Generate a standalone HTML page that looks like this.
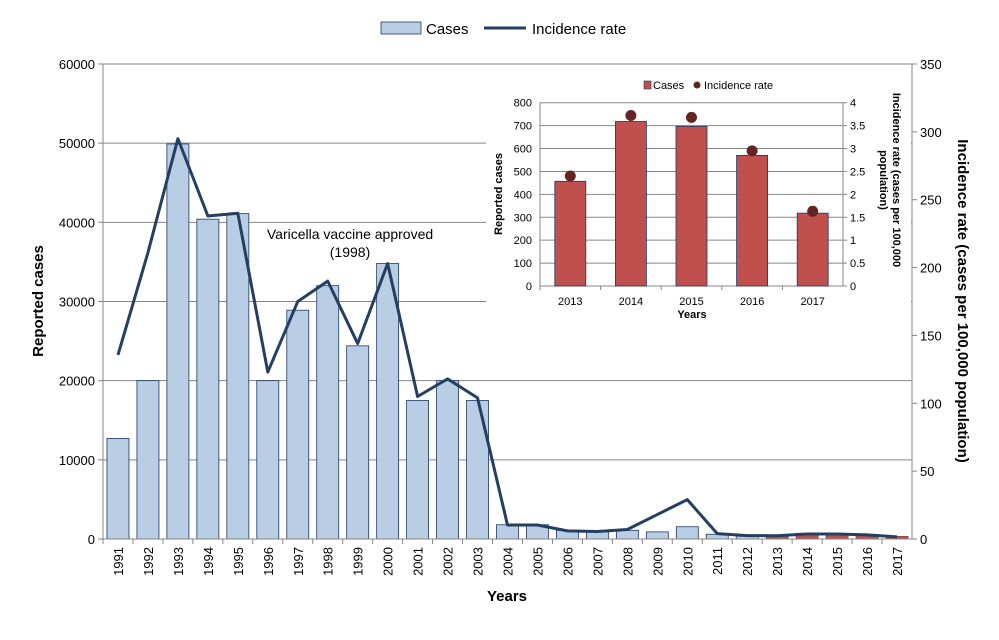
<!DOCTYPE html>
<html><head><meta charset="utf-8">
<style>
body{margin:0;background:#fff;font-family:"Liberation Sans",sans-serif;}
svg text{font-family:"Liberation Sans",sans-serif;}
</style></head>
<body>
<svg id="c" width="999" height="635" xmlns="http://www.w3.org/2000/svg"></svg>
<script>
const years=[1991,1992,1993,1994,1995,1996,1997,1998,1999,2000,2001,2002,2003,2004,2005,2006,2007,2008,2009,2010,2011,2012,2013,2014,2015,2016,2017];
const cases=[12700,20000,49900,40400,41100,20000,28900,32000,24400,34800,17500,20000,17500,1800,1800,1100,900,1100,900,1550,600,350,460,720,700,570,320];
const rates=[135.6,211,295,238,240,123,175,190,144,203,105,118,104,10.3,10.3,6,5.5,7,18,29,4,2.5,2.4,3.7,3.7,3,1.6];
const leftTicks=[0,10000,20000,30000,40000,50000,60000];
const rightTicks=[0,50,100,150,200,250,300,350];
const insetYears=[2013,2014,2015,2016,2017];
const insetCases=[457,718,697,570,318];
const insetRates=[2.4,3.72,3.68,2.95,1.63];
const insetLeftTicks=[0,100,200,300,400,500,600,700,800];
const insetRightTicks=[0,0.5,1,1.5,2,2.5,3,3.5,4];

const svg=document.getElementById('c');
const NS='http://www.w3.org/2000/svg';
function mk(t,a,txt){const e=document.createElementNS(NS,t);for(const k in a)e.setAttribute(k,a[k]);if(txt!==undefined)e.textContent=txt;svg.appendChild(e);return e;}

const X0=103,X1=912,Y0=539,Y1=64;
const bw=(X1-X0)/years.length;
const yL=v=>Y0-(v/60000)*(Y0-Y1);
const yR=v=>Y0-(v/350)*(Y0-Y1);
const xc=i=>X0+bw*(i+0.5);

leftTicks.forEach(t=>{
  if(t>0){const g=mk('line',{x1:X0,x2:X1,y1:yL(t),y2:yL(t),stroke:'#868686','stroke-width':1});
  }
  const l=mk('text',{x:X0-8,y:yL(t)+5,'text-anchor':'end','font-size':13},t);
  
  mk('line',{x1:X0-5,x2:X0,y1:yL(t),y2:yL(t),stroke:'#868686'});
});
mk('line',{x1:X0,x2:X0,y1:Y1,y2:Y0,stroke:'#868686'});

years.forEach((y,i)=>{
  const w=22,h=Y0-yL(cases[i]);
  const red=y>=2013;
  const r=mk('rect',{x:xc(i)-w/2,y:yL(cases[i]),width:w,height:h,fill:red?'#c0504d':'#b9cde5',stroke:red?'#8c3836':'#1f3864','stroke-width':0.8});
  
  mk('line',{x1:X0+bw*i,x2:X0+bw*i,y1:Y0,y2:Y0+5,stroke:'#868686'});
  const t=mk('text',{x:0,y:0,'font-size':13,'text-anchor':'end',transform:`translate(${xc(i)+5},${Y0+8}) rotate(-90)`},y);
  
});
mk('line',{x1:X0,x2:X1,y1:Y0,y2:Y0,stroke:'#868686'});

const pts=rates.map((r,i)=>xc(i)+','+yR(r)).join(' ');
const pl=mk('polyline',{points:pts,fill:'none',stroke:'#243f60','stroke-width':3,'stroke-linejoin':'round'});


let t;
t=mk('text',{x:0,y:0,'font-size':15,'font-weight':'bold','text-anchor':'middle',transform:'translate(43,301) rotate(-90)'},'Reported cases');

t=mk('text',{x:0,y:0,'font-size':15,'font-weight':'bold','text-anchor':'middle',transform:'translate(958,301) rotate(90)'},'Incidence rate (cases per 100,000 population)');

t=mk('text',{x:507,y:601,'font-size':15,'font-weight':'bold','text-anchor':'middle'},'Years');

t=mk('text',{x:350,y:239,'font-size':14,'text-anchor':'middle'},'Varicella vaccine approved');

t=mk('text',{x:350,y:257,'font-size':14,'text-anchor':'middle'},'(1998)');


let r=mk('rect',{x:381,y:22,width:40,height:12,fill:'#b9cde5',stroke:'#1f3864','stroke-width':0.8});

t=mk('text',{x:426,y:34,'font-size':15},'Cases');

r=mk('line',{x1:484,x2:526,y1:28,y2:28,stroke:'#243f60','stroke-width':3});

t=mk('text',{x:532,y:34,'font-size':15},'Incidence rate');


// inset
r=mk('rect',{x:486,y:65,width:425,height:275,fill:'#fff'});


// right axis drawn after inset background
rightTicks.forEach(t=>{
  const l=mk('text',{x:X1+8,y:yR(t)+5,'font-size':13},t);
  
  mk('line',{x1:X1,x2:X1+5,y1:yR(t),y2:yR(t),stroke:'#868686'});
});
mk('line',{x1:X1,x2:X1,y1:Y1,y2:Y0,stroke:'#868686'});

const IX0=540,IX1=843,IY0=286,IY1=102.7;
const ibw=(IX1-IX0)/insetYears.length;
const iyL=v=>IY0-(v/800)*(IY0-IY1);
const iyR=v=>IY0-(v/4)*(IY0-IY1);
const ixc=i=>IX0+ibw*(i+0.5);
insetLeftTicks.forEach(v=>{
  if(v>0){const g=mk('line',{x1:IX0,x2:IX1,y1:iyL(v),y2:iyL(v),stroke:'#868686'});
  }
  const l=mk('text',{x:IX0-8,y:iyL(v)+4,'text-anchor':'end','font-size':11},v);
  
});
insetRightTicks.forEach(v=>{
  const l=mk('text',{x:IX1+7,y:iyR(v)+4,'font-size':11},v);
  
  mk('line',{x1:IX1,x2:IX1+4,y1:iyR(v),y2:iyR(v),stroke:'#868686'});
});
mk('line',{x1:IX0,x2:IX0,y1:IY1,y2:IY0,stroke:'#868686'});
mk('line',{x1:IX1,x2:IX1,y1:IY1,y2:IY0,stroke:'#868686'});
mk('line',{x1:IX0,x2:IX1,y1:IY0,y2:IY0,stroke:'#868686'});
insetYears.forEach((y,i)=>{
  const w=31;
  const b=mk('rect',{x:ixc(i)-w/2,y:iyL(insetCases[i]),width:w,height:IY0-iyL(insetCases[i]),fill:'#c0504d',stroke:'#1f3864','stroke-width':0.8});
  
  const d=mk('circle',{cx:ixc(i),cy:iyR(insetRates[i]),r:5.5,fill:'#632523'});
  
  mk('line',{x1:IX0+ibw*i,x2:IX0+ibw*i,y1:IY0,y2:IY0+4,stroke:'#868686'});
  const l=mk('text',{x:ixc(i),y:305,'text-anchor':'middle','font-size':11},y);
  
});
t=mk('text',{x:692,y:318,'text-anchor':'middle','font-size':11,'font-weight':'bold'},'Years');

t=mk('text',{x:0,y:0,'font-size':11,'font-weight':'bold','text-anchor':'middle',transform:'translate(502,194) rotate(-90)'},'Reported cases');

t=mk('text',{x:0,y:0,'font-size':11,'font-weight':'bold','text-anchor':'middle',transform:'translate(893,180) rotate(90)'},'Incidence rate (cases per 100,000');

t=mk('text',{x:0,y:0,'font-size':11,'font-weight':'bold','text-anchor':'middle',transform:'translate(880,180) rotate(90)'},'population)');

r=mk('rect',{x:644,y:81,width:7,height:8,fill:'#c0504d',stroke:'#1f3864','stroke-width':0.6});

t=mk('text',{x:653,y:89,'font-size':11},'Cases');

r=mk('circle',{cx:697,cy:85,r:3.5,fill:'#632523'});

t=mk('text',{x:704,y:89,'font-size':11},'Incidence rate');

</script>
</body></html>
